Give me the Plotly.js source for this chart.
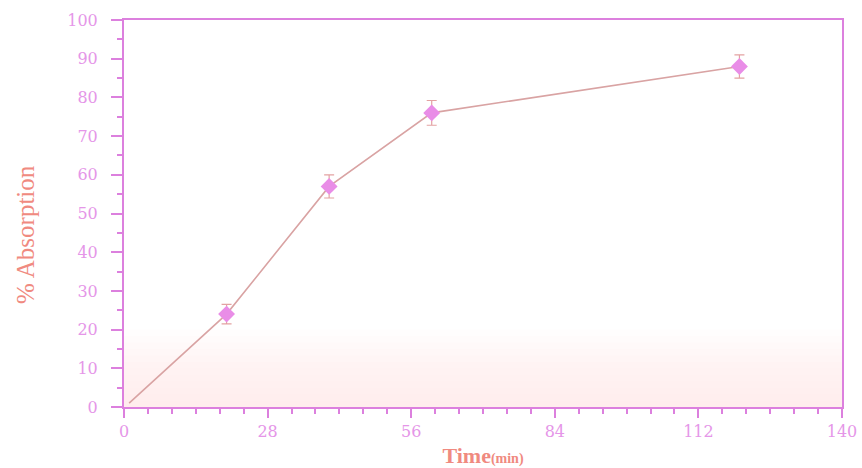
<!DOCTYPE html>
<html>
<head>
<meta charset="utf-8">
<script src="https://cdn.plot.ly/plotly-3.0.1.min.js"></script>
<style>html,body{margin:0;padding:0;background:#fff;}#chart{width:862px;height:468px;}</style>
</head>
<body>
<div id="chart"></div>
<script>
const lineTimes = [1, 20, 40, 60, 120];
const lineValues = [1, 24, 57, 76, 88];
const markerTimes = [20, 40, 60, 120];
const markerValues = [24, 57, 76, 88];
const errorValues = [2.5, 3, 3.2, 3];
const xTicks = [0, 28, 56, 84, 112, 140];
const yTicks = [0, 10, 20, 30, 40, 50, 60, 70, 80, 90, 100];

const axisColor = '#dc80de';
const tickFontColor = '#e596e8';
const titleColor = '#f08a80';
const serif = 'Liberation Serif, Times New Roman, serif';
const tickSerif = 'DejaVu Serif, serif';

const traces = [
  {
    x: lineTimes, y: lineValues, type: 'scatter', mode: 'lines',
    line: {color: '#d9a3a3', width: 1.6}, hoverinfo: 'skip', showlegend: false
  },
  {
    x: markerTimes, y: markerValues, type: 'scatter', mode: 'markers',
    marker: {symbol: 'diamond', size: 13, color: '#e98de7', line: {width: 0}},
    error_y: {type: 'data', array: errorValues, visible: true, color: '#e3a2a2', thickness: 1.2, width: 5},
    showlegend: false
  }
];

// soft pink gradient at the bottom of the plot area
const shapes = [];
const steps = 12;
for (let i = 1; i <= steps; i++) {
  shapes.push({
    type: 'rect', xref: 'paper', yref: 'y', x0: 0, x1: 1, y0: 0, y1: 20 * i / steps,
    fillcolor: '#fde4e8', opacity: 0.09, line: {width: 0}, layer: 'below'
  });
}

const layout = {
  width: 862, height: 468,
  margin: {l: 124, r: 20, t: 20, b: 61},
  paper_bgcolor: '#ffffff', plot_bgcolor: '#ffffff',
  showlegend: false,
  shapes: shapes,
  annotations: [{
    text: '% Absorption', textangle: -90, xref: 'paper', yref: 'paper',
    x: -0.138, y: 0.447, xanchor: 'center', yanchor: 'middle', showarrow: false,
    font: {family: serif, size: 25, color: titleColor}
  }],
  xaxis: {
    range: [0, 140], tickvals: xTicks, ticktext: xTicks.map(String),
    showgrid: false, zeroline: false,
    showline: true, linecolor: axisColor, linewidth: 2, mirror: true,
    ticks: 'outside', ticklen: 9, tickwidth: 2, tickcolor: axisColor,
    minor: {dtick: 28 / 6, tick0: 0, ticks: 'outside', ticklen: 5, tickwidth: 2, tickcolor: axisColor, showgrid: false},
    tickfont: {family: tickSerif, size: 16, color: tickFontColor},
    title: {text: '<b>Time</b><b style="font-size:14px">(min)</b>', font: {family: serif, size: 22, color: titleColor}, standoff: 7}
  },
  yaxis: {
    range: [0, 100], tickvals: yTicks, ticktext: yTicks.map(String),
    showgrid: false, zeroline: false,
    showline: true, linecolor: axisColor, linewidth: 2, mirror: true,
    ticks: 'outside', ticklen: 11, tickwidth: 2, tickcolor: axisColor,
    ticklabelstandoff: 10,
    minor: {dtick: 5, tick0: 0, ticks: 'outside', ticklen: 5, tickwidth: 2, tickcolor: axisColor, showgrid: false},
    tickfont: {family: tickSerif, size: 16, color: tickFontColor}
  }
};

Plotly.newPlot('chart', traces, layout, {displayModeBar: false, staticPlot: true});
</script>
</body>
</html>
